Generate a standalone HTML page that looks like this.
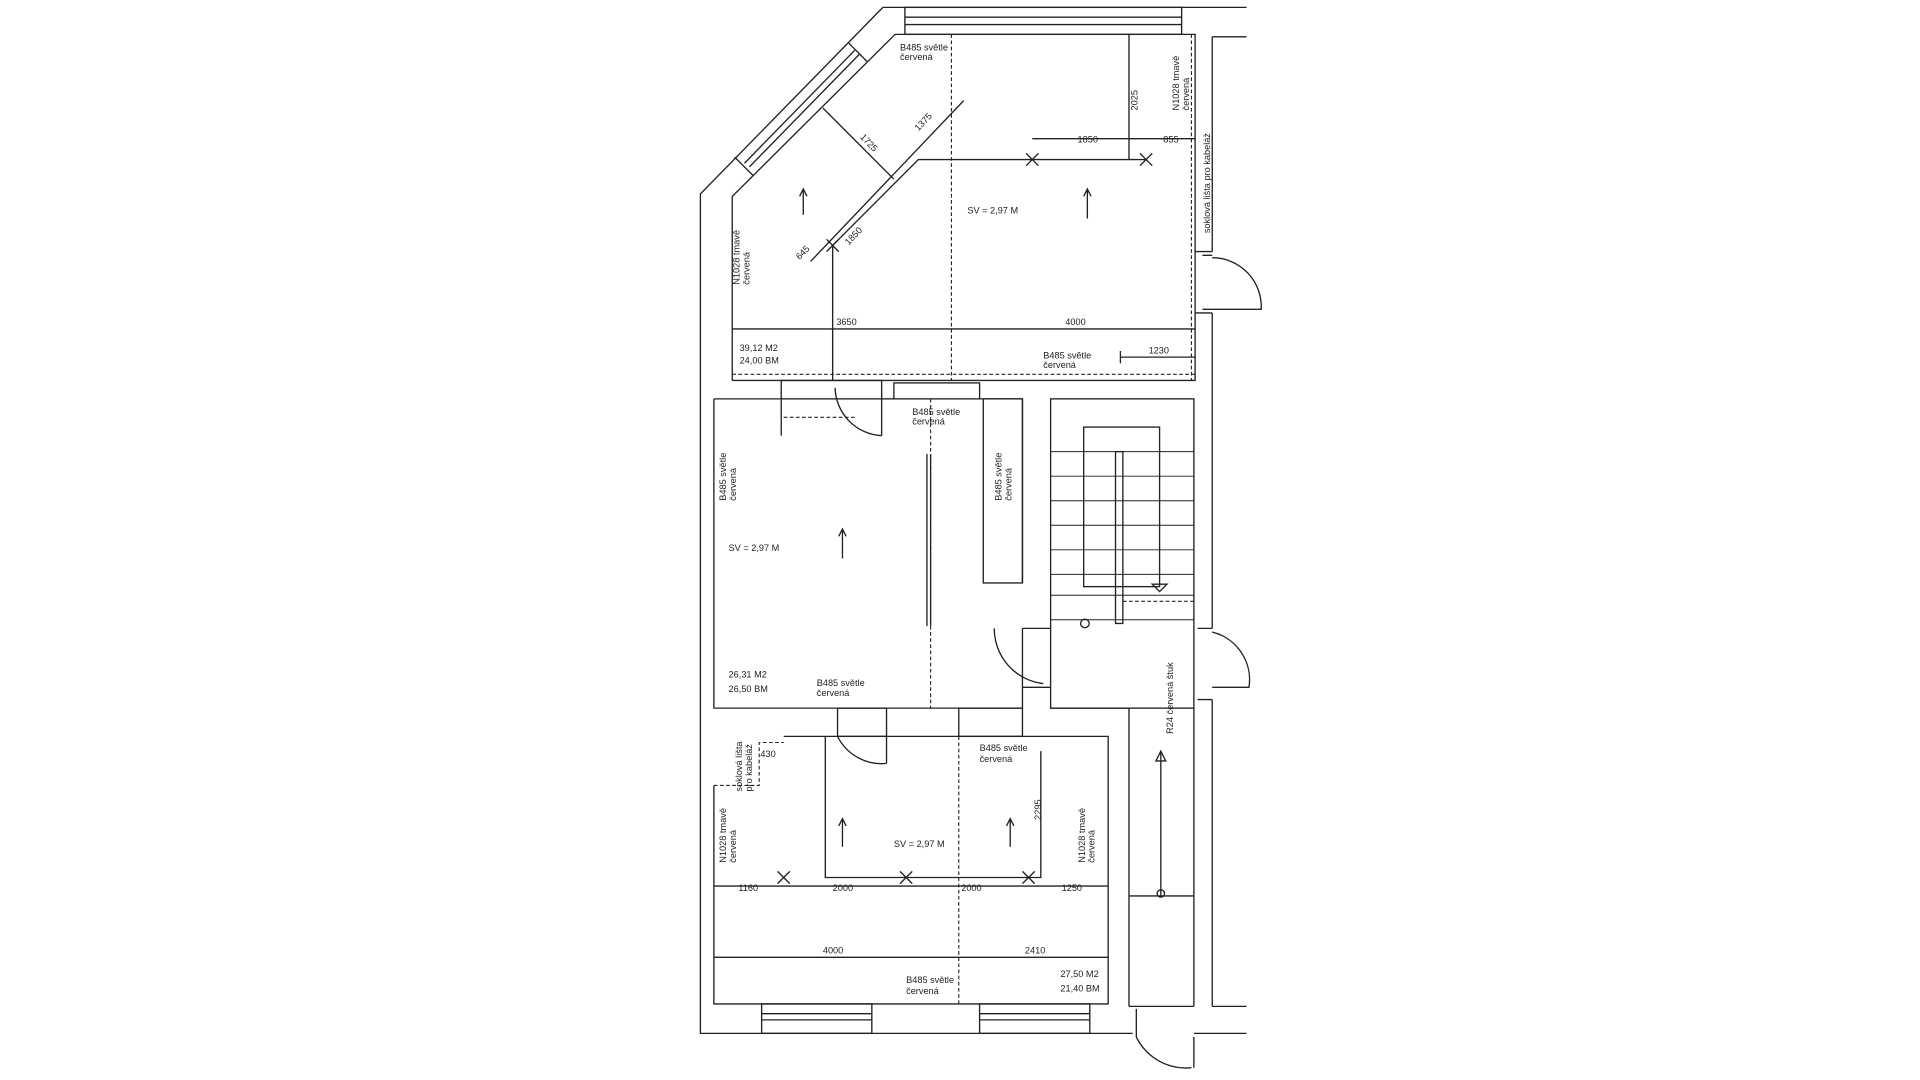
<!DOCTYPE html>
<html><head><meta charset="utf-8"><style>
html,body{margin:0;padding:0;background:#fff;}
svg{display:block;}
text{font-family:"Liberation Sans",sans-serif;font-size:7.5px;fill:#222;}
</style></head><body>
<svg width="1920" height="1080" viewBox="0 0 1568 880" preserveAspectRatio="none" xmlns="http://www.w3.org/2000/svg">
<g fill="none" stroke="#222" stroke-width="1.1">
<polyline points="721,6 572,158 572,842 925,842"/>
<line x1="721" y1="6" x2="1018" y2="6"/>
<line x1="990" y1="30" x2="1018" y2="30"/>
<line x1="990" y1="30" x2="990" y2="205"/>
<line x1="990" y1="255" x2="990" y2="512"/>
<line x1="990" y1="570" x2="990" y2="820"/>
<line x1="990" y1="820" x2="1018" y2="820"/>
<line x1="975" y1="842" x2="1018" y2="842"/>
<rect x="739" y="6" width="226" height="22"/>
<line x1="739" y1="14" x2="965" y2="14"/><line x1="739" y1="20" x2="965" y2="20"/>
<line x1="698" y1="41" x2="608" y2="133"/>
<line x1="702" y1="44" x2="612" y2="136"/>
<line x1="693" y1="35" x2="708" y2="50"/><line x1="600" y1="128" x2="615" y2="143"/>
<polyline points="598,310 598,160 731,28 976,28 976,310 598,310"/>
<line x1="976" y1="205" x2="990" y2="205"/><line x1="976" y1="255" x2="990" y2="255"/>
<path d="M990,208 L982,208 M990,252 L982,252"/>
<path d="M990,210 A40,40 0 0 1 1030,252 L990,252"/>
<polyline points="680,310 680,200 750,130 936,130"/>
<line x1="922" y1="28" x2="922" y2="130"/>
<line x1="843" y1="113" x2="976" y2="113"/>
<line x1="598" y1="268" x2="976" y2="268"/>
<line x1="915" y1="291" x2="976" y2="291"/>
<line x1="915" y1="286" x2="915" y2="296"/>
<line x1="662" y1="213" x2="787" y2="82"/>
<line x1="672" y1="88" x2="730" y2="146"/>
<path d="M838,125 l10,10 M848,125 l-10,10 M931,125 l10,10 M941,125 l-10,10 M675,195 l10,10 M685,195 l-10,10"/>
<line x1="656" y1="175" x2="656" y2="155"/><path d="M653,160 L656,154 L659,160"/>
<line x1="888" y1="178" x2="888" y2="155"/><path d="M885,160 L888,154 L891,160"/>
<line x1="583" y1="325" x2="640" y2="325"/>
<line x1="720" y1="325" x2="730" y2="325"/>
<line x1="800" y1="325" x2="835" y2="325"/>
<rect x="638" y="310" width="82" height="15"/>
<line x1="638" y1="325" x2="638" y2="355"/><line x1="720" y1="325" x2="720" y2="355"/>
<path d="M720,355 A40,40 0 0 1 682,316"/>
<rect x="730" y="312" width="70" height="13"/>
<polyline points="583,325 583,577 835,577 835,512"/>
<line x1="835" y1="475" x2="835" y2="325"/>
<rect x="803" y="325" width="32" height="150"/>
<line x1="757" y1="370" x2="757" y2="510"/><line x1="760" y1="370" x2="760" y2="510"/>
<path d="M835,512 L858,512 M835,560 L858,560"/>
<path d="M812,512 A45,45 0 0 0 852,557"/>
<line x1="688" y1="455" x2="688" y2="432"/><path d="M685,437 L688,431 L691,437"/>
<rect x="858" y="325" width="117" height="252"/>
<rect x="885" y="348" width="62" height="130"/>
<g stroke-width="0.8">
<line x1="858" y1="368" x2="975" y2="368"/><line x1="858" y1="388" x2="975" y2="388"/>
<line x1="858" y1="408" x2="975" y2="408"/><line x1="858" y1="428" x2="975" y2="428"/>
<line x1="858" y1="448" x2="975" y2="448"/><line x1="858" y1="468" x2="975" y2="468"/>
<line x1="858" y1="485" x2="975" y2="485"/><line x1="858" y1="505" x2="975" y2="505"/>
</g>
<rect x="911" y="368" width="6" height="140"/>
<circle cx="886" cy="508" r="3.5"/>
<path d="M941,476 L947,482 L953,476 Z"/>
<path d="M978,512 L990,512 M978,570 L990,570"/>
<path d="M990,515 A40,40 0 0 1 1020,560 L990,560"/>
<polyline points="858,577 922,577 922,610 922,820"/>
<line x1="975" y1="577" x2="975" y2="820"/>
<line x1="922" y1="820" x2="975" y2="820"/>
<line x1="948" y1="730" x2="948" y2="612"/><path d="M944,620 L948,612 L952,620 Z"/><circle cx="948" cy="728" r="3"/>
<line x1="922" y1="730" x2="975" y2="730"/>
<path d="M928,845 L928,822 M975,845 L975,870"/>
<path d="M928,845 A45,45 0 0 0 973,870"/>
<polyline points="640,600 905,600 905,818 583,818 583,640"/>
<rect x="783" y="577" width="52" height="23"/>
<rect x="684" y="577" width="40" height="23"/>
<path d="M724,600 L724,622 M724,622 A40,40 0 0 1 684,600"/>
<polyline points="674,600 674,715 850,715 850,612"/>
<line x1="583" y1="722" x2="905" y2="722"/>
<line x1="583" y1="780" x2="905" y2="780"/>
<path d="M635,710 l10,10 M645,710 l-10,10 M735,710 l10,10 M745,710 l-10,10 M835,710 l10,10 M845,710 l-10,10"/>
<line x1="688" y1="690" x2="688" y2="668"/><path d="M685,673 L688,667 L691,673"/>
<line x1="825" y1="690" x2="825" y2="668"/><path d="M822,673 L825,667 L828,673"/>
<rect x="622" y="818" width="90" height="24"/><line x1="622" y1="826" x2="712" y2="826"/><line x1="622" y1="831" x2="712" y2="831"/>
<rect x="800" y="818" width="90" height="24"/><line x1="800" y1="826" x2="890" y2="826"/><line x1="800" y1="831" x2="890" y2="831"/>
</g>
<g fill="none" stroke="#222" stroke-width="0.9" stroke-dasharray="3,2">
<line x1="777" y1="28" x2="777" y2="310"/>
<line x1="760" y1="325" x2="760" y2="577"/>
<line x1="783" y1="600" x2="783" y2="818"/>
<line x1="973" y1="28" x2="973" y2="310"/>
<line x1="598" y1="305" x2="976" y2="305"/>
<polyline points="583,640 620,640 620,605 640,605"/>
<line x1="640" y1="340" x2="700" y2="340"/>
<line x1="917" y1="490" x2="975" y2="490"/>
</g>
<text x="735" y="41">B485 světle</text><text x="735" y="49">červená</text>
<text x="790" y="174">SV = 2,97 M</text>
<text x="880" y="116">1850</text><text x="950" y="116">855</text>
<text x="683" y="265">3650</text><text x="870" y="265">4000</text>
<text x="938" y="288">1230</text>
<text x="604" y="286">39,12 M2</text><text x="604" y="296">24,00 BM</text>
<text x="852" y="292">B485 světle</text><text x="852" y="300">červená</text>
<text x="745" y="338">B485 světle</text><text x="745" y="346">červená</text>
<text x="595" y="449">SV = 2,97 M</text>
<text x="595" y="552">26,31 M2</text><text x="595" y="564">26,50 BM</text>
<text x="667" y="559">B485 světle</text><text x="667" y="567">červená</text>
<text x="800" y="612">B485 světle</text><text x="800" y="621">červená</text>
<text x="730" y="690">SV = 2,97 M</text>
<text x="603" y="726">1160</text><text x="680" y="726">2000</text><text x="785" y="726">2000</text><text x="867" y="726">1250</text>
<text x="672" y="777">4000</text><text x="837" y="777">2410</text>
<text x="740" y="801">B485 světle</text><text x="740" y="810">červená</text>
<text x="866" y="796">27,50 M2</text><text x="866" y="808">21,40 BM</text>
<text x="621" y="617">430</text>
<text transform="translate(593,408) rotate(-90)">B485 světle</text><text transform="translate(601,408) rotate(-90)">červená</text>
<text transform="translate(818,408) rotate(-90)">B485 světle</text><text transform="translate(826,408) rotate(-90)">červená</text>
<text transform="translate(604,232) rotate(-90)">N1028 tmavě</text><text transform="translate(612,232) rotate(-90)">červená</text>
<text transform="translate(963,90) rotate(-90)">N1028 tmavě</text><text transform="translate(971,90) rotate(-90)">červená</text>
<text transform="translate(988,190) rotate(-90)">soklová lišta pro kabeláž</text>
<text transform="translate(929,90) rotate(-90)">2025</text>
<text transform="translate(958,598) rotate(-90)">R24 červená štuk</text>
<text transform="translate(606,645) rotate(-90)">soklová lišta</text><text transform="translate(614,645) rotate(-90)">pro kabeláž</text>
<text transform="translate(593,703) rotate(-90)">N1028 tmavě</text><text transform="translate(601,703) rotate(-90)">červená</text>
<text transform="translate(886,703) rotate(-90)">N1028 tmavě</text><text transform="translate(894,703) rotate(-90)">červená</text>
<text transform="translate(850,668) rotate(-90)">2295</text>
<text transform="translate(693,200) rotate(-46)">1850</text>
<text transform="translate(653,212) rotate(-46)">645</text>
<text transform="translate(750,107) rotate(-46)">1375</text>
<text transform="translate(702,112) rotate(46)">1725</text>
</svg>
</body></html>
